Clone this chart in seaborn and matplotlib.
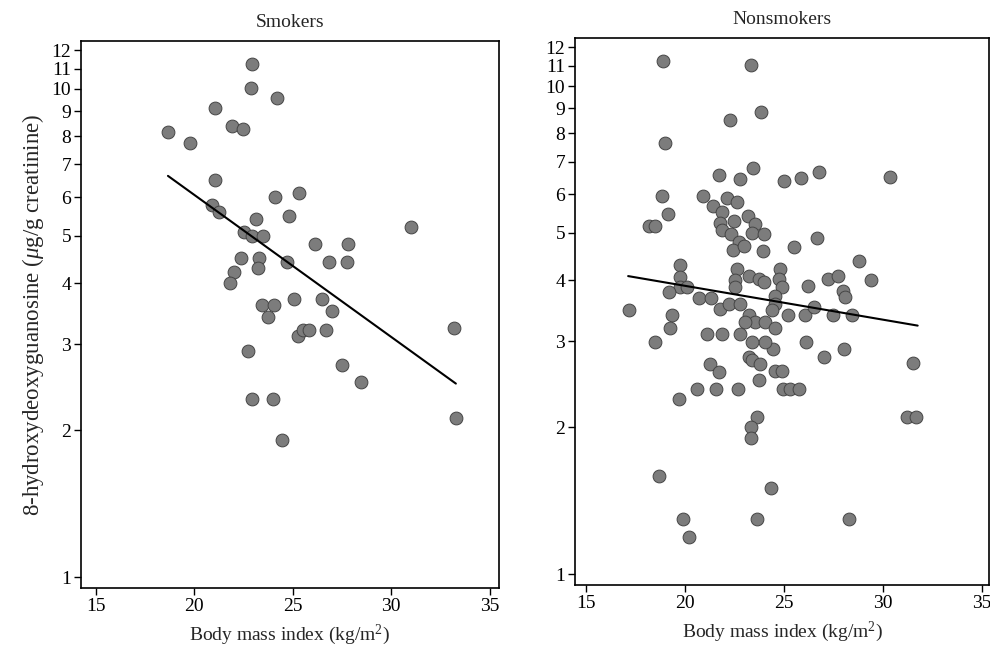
import numpy as np
import pandas as pd
import matplotlib
matplotlib.use("Agg")
import matplotlib.pyplot as plt
import seaborn as sns

# ---------------- data ----------------
smk_bmi = [22.95, 22.86, 24.19, 21.03, 21.93, 22.46, 18.66, 19.78, 21.05, 20.90,
           21.27, 24.12, 25.32, 24.83, 23.12, 22.54, 22.95, 23.50, 31.01, 26.15,
           27.83, 22.39, 23.30, 23.22, 24.71, 26.86, 27.75, 22.03, 21.81, 25.07,
           26.49, 26.98, 23.42, 24.03, 23.74, 25.25, 25.50, 25.81, 26.68, 33.17,
           22.73, 27.49, 28.47, 22.95, 23.98, 33.29, 24.47]
smk_ohdg = [11.23, 10.05, 9.57, 9.14, 8.37, 8.27, 8.15, 7.76, 6.49, 5.79,
            5.58, 6.00, 6.11, 5.50, 5.41, 5.10, 5.00, 5.00, 5.22, 4.81,
            4.82, 4.50, 4.50, 4.30, 4.41, 4.41, 4.41, 4.21, 4.00, 3.71,
            3.71, 3.51, 3.61, 3.61, 3.41, 3.11, 3.21, 3.21, 3.21, 3.23,
            2.90, 2.72, 2.51, 2.31, 2.31, 2.12, 1.91]

non_bmi = [18.88, 23.34, 23.84, 22.26, 18.99, 23.45, 21.72, 22.78, 24.99, 25.88,
           26.79, 30.38, 18.83, 19.13, 18.18, 18.49, 20.90, 22.11, 22.61, 21.40,
           21.86, 21.77, 22.49, 21.86, 22.33, 23.19, 23.54, 23.37, 23.98, 22.70,
           22.44, 22.95, 23.92, 25.49, 26.67, 28.78, 19.73, 19.73, 19.73, 20.09,
           19.16, 22.61, 22.53, 22.53, 23.20, 23.71, 23.96, 24.80, 24.72, 24.89,
           24.55, 24.55, 24.38, 26.20, 27.24, 27.75, 28.00, 28.09, 29.40, 17.14,
           20.71, 21.32, 21.77, 22.19, 22.78, 19.33, 19.25, 25.22, 26.07, 26.49,
           27.50, 28.43, 23.20, 23.54, 23.04, 24.04, 24.55, 24.46, 24.04, 23.37,
           18.49, 21.10, 21.86, 22.78, 23.20, 23.37, 23.79, 26.10, 27.01, 28.02,
           31.54, 21.27, 21.69, 23.71, 24.55, 24.89, 20.59, 21.57, 22.65, 19.66,
           24.97, 25.31, 25.73, 23.63, 23.32, 23.32, 31.20, 31.70, 18.69, 24.35,
           19.87, 23.63, 28.26, 20.20]
non_ohdg = [11.27, 11.05, 8.86, 8.54, 7.65, 6.78, 6.57, 6.46, 6.38, 6.48,
            6.67, 6.50, 5.95, 5.47, 5.17, 5.17, 5.95, 5.90, 5.78, 5.68,
            5.52, 5.24, 5.29, 5.06, 4.97, 5.41, 5.22, 5.01, 4.98, 4.79,
            4.61, 4.70, 4.59, 4.68, 4.88, 4.39, 4.29, 4.06, 3.87, 3.87,
            3.78, 4.22, 4.00, 3.87, 4.09, 4.03, 3.96, 4.22, 4.03, 3.87,
            3.72, 3.58, 3.47, 3.89, 4.03, 4.09, 3.81, 3.69, 4.01, 3.48,
            3.68, 3.68, 3.50, 3.58, 3.58, 3.39, 3.19, 3.39, 3.39, 3.52,
            3.39, 3.39, 3.39, 3.28, 3.28, 3.28, 3.20, 2.89, 2.99, 2.99,
            2.99, 3.10, 3.10, 3.10, 2.78, 2.74, 2.69, 2.99, 2.79, 2.89,
            2.71, 2.69, 2.59, 2.50, 2.61, 2.61, 2.39, 2.39, 2.39, 2.29,
            2.39, 2.39, 2.39, 2.10, 2.00, 1.90, 2.10, 2.10, 1.59, 1.50,
            1.30, 1.30, 1.30, 1.19]

smk_fit_bmi = [18.66, 33.29]
smk_fit_ohdg = [6.63, 2.49]
non_fit_bmi = [17.11, 31.76]
non_fit_ohdg = [4.08, 3.23]

titles = ["Smokers", "Nonsmokers"]
y_ticks = [1, 2, 3, 4, 5, 6, 7, 8, 9, 10, 11, 12]
x_ticks = [15, 20, 25, 30, 35]

# ---------------- style ----------------
sns.set_theme(style="ticks")
plt.rcParams["font.family"] = ["Liberation Serif", "DejaVu Serif"]
plt.rcParams["mathtext.fontset"] = "custom"
plt.rcParams["mathtext.rm"] = "Liberation Serif"
plt.rcParams["mathtext.it"] = "Liberation Serif:italic"
plt.rcParams["axes.edgecolor"] = "black"
plt.rcParams["axes.linewidth"] = 1.2

fig = plt.figure(figsize=(9.9, 6.54), dpi=100)
ax1 = fig.add_axes([0.0818, 0.101, 0.4222, 0.837])
ax2 = fig.add_axes([0.5808, 0.1055, 0.4182, 0.8365])

panels = [
    (ax1, smk_bmi, smk_ohdg, smk_fit_bmi, smk_fit_ohdg, (14.24, 35.48)),
    (ax2, non_bmi, non_ohdg, non_fit_bmi, non_fit_ohdg, (14.42, 35.37)),
]

for i, (ax, bx, oy, fx, fy, xl) in enumerate(panels):
    df = pd.DataFrame({"bmi": bx, "ohdg": oy})
    sns.scatterplot(data=df, x="bmi", y="ohdg", ax=ax, s=85,
                    color="#7c7c7c", edgecolor="#454545", linewidth=0.7,
                    zorder=3)
    fdf = pd.DataFrame({"bmi": fx, "ohdg": fy})
    sns.lineplot(data=fdf, x="bmi", y="ohdg", ax=ax, color="black",
                 linewidth=1.5, zorder=4)
    ax.set_yscale("log")
    ax.set_ylim(0.95, 12.55)
    ax.set_xlim(*xl)
    ax.set_yticks(y_ticks)
    ax.set_yticklabels([str(t) for t in y_ticks])
    ax.yaxis.set_minor_locator(matplotlib.ticker.NullLocator())
    ax.set_xticks(x_ticks)
    ax.set_xticklabels([str(t) for t in x_ticks])
    ax.tick_params(axis="both", direction="out", length=5, width=1,
                   labelsize=14, pad=2, colors="black")
    ax.set_title(titles[i], fontsize=14, pad=10)
    ax.set_xlabel(r"Body mass index (kg/m$^2$)", fontsize=14, labelpad=6)
    for sp in ax.spines.values():
        sp.set_visible(True)
        sp.set_color("black")

ax1.set_ylabel(r"8-hydroxydeoxyguanosine ($\mu$g/g creatinine)", fontsize=16.5,
               labelpad=4)
ax2.set_ylabel("")

fig.savefig("out.png", dpi=100, facecolor="white")
